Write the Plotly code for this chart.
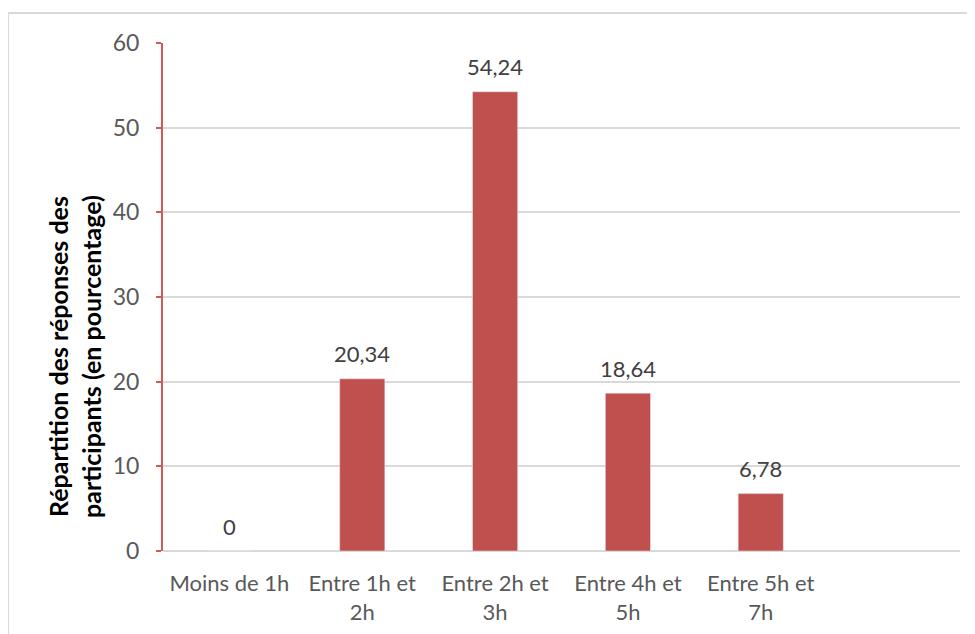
import plotly.graph_objects as go

categories = ["Moins de 1h", "Entre 1h et<br>2h", "Entre 2h et<br>3h", "Entre 4h et<br>5h", "Entre 5h et<br>7h"]
values = [0, 20.34, 54.24, 18.64, 6.78]
y_ticks = [0, 10, 20, 30, 40, 50, 60]
y_title = "Répartition des réponses des<br>participants (en pourcentage)"

labels = [f"{v:g}".replace(".", ",") for v in values]

W, H = 975, 634
OFF = 8  # page body margin
ml, mr, mt, mb = 155, 23, 35, 91
pw, ph = W - ml - mr, H - mt - mb

fig = go.Figure()
fig.add_trace(go.Bar(
    x=categories, y=values, marker_color="#c0504d", width=0.34,
    hoverinfo="skip",
))

for c, v, t in zip(categories, values, labels):
    fig.add_annotation(x=c, y=v, text=t, showarrow=False, yanchor="middle",
                       yshift=25, font=dict(family="Lato", size=22, color="#404040"))

def px_to_paper_x(p):
    return (p - OFF - ml) / pw

def px_to_paper_y(p):
    return (H - mb - (p - OFF)) / ph

fig.add_shape(type="rect", xref="paper", yref="paper",
              x0=px_to_paper_x(8), x1=px_to_paper_x(1000),
              y0=px_to_paper_y(660), y1=px_to_paper_y(13),
              line=dict(color="#d9d9d9", width=2), fillcolor="rgba(0,0,0,0)", layer="below")

fig.add_annotation(xref="paper", yref="paper",
                   x=px_to_paper_x(74), y=px_to_paper_y(357),
                   xanchor="center", yanchor="middle", textangle=-90,
                   text=y_title, showarrow=False,
                   font=dict(family="Lato", size=25, color="#000000", weight="bold"))

fig.update_layout(
    width=W, height=H,
    margin=dict(l=ml, r=mr, t=mt, b=mb),
    paper_bgcolor="white", plot_bgcolor="white",
    showlegend=False,
    font=dict(family="Lato", size=22, color="#595959"),
    xaxis=dict(
        type="category", range=[-0.5, 5.5],
        showgrid=False, showline=False, zeroline=False,
        ticks="outside", ticklen=8, tickcolor="rgba(0,0,0,0)",
        ticklabelstandoff=5,
        tickfont=dict(family="Lato", size=22, color="#595959"),
    ),
    yaxis=dict(
        range=[0, 60], tickvals=y_ticks, ticktext=[str(v) for v in y_ticks],
        showgrid=True, gridcolor="#d9d9d9", gridwidth=1.5,
        zeroline=True, zerolinecolor="#d9d9d9", zerolinewidth=2,
        showline=True, linecolor="#cf5a56", linewidth=2,
        ticks="outside", ticklen=5, tickcolor="#cf5a56", tickwidth=2,
        ticklabelstandoff=12,
        tickfont=dict(family="Lato", size=23, color="#595959"),
    ),
)

fig.write_html("out.html")
